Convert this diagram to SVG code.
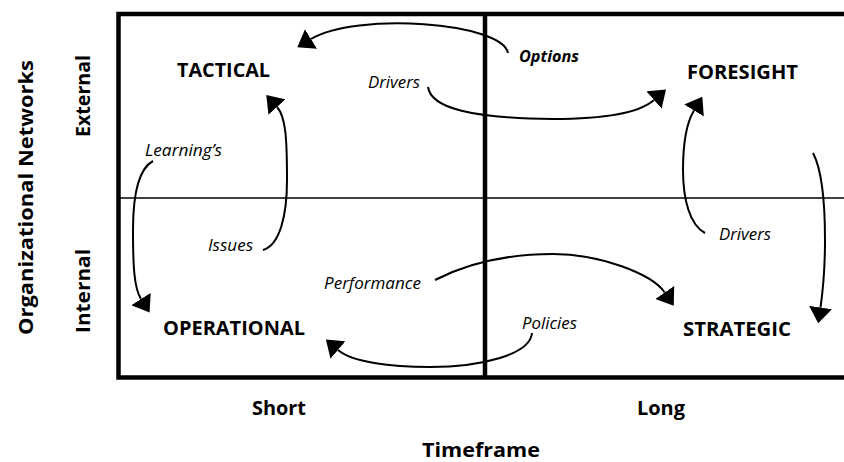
<svg xmlns="http://www.w3.org/2000/svg" width="844" height="462" viewBox="0 0 844 462">
<defs>
<style>
.frame{fill:none;stroke:#000;stroke-width:4.5}
.thin{fill:none;stroke:#000;stroke-width:1.6}
.conn{fill:none;stroke:#000;stroke-width:2;marker-end:url(#arrow)}
.node{font-family:"Open Sans","Liberation Sans",sans-serif;font-weight:bold;font-size:20px;fill:#000}
.lbl{font-family:"Open Sans","Liberation Sans",sans-serif;font-style:italic;font-size:15.5px;fill:#000}
.axis{font-family:"Open Sans","Liberation Sans",sans-serif;font-weight:bold;font-size:19px;fill:#000}
</style>
<marker id="arrow" markerUnits="userSpaceOnUse" markerWidth="16" markerHeight="23" viewBox="0 0 16 23" refX="0" refY="11.5" orient="auto">
<path d="M0,0 L16,11.5 L0,23 Z" fill="#000"/>
</marker>
</defs>
<rect width="844" height="462" fill="#fff"/>
<g id="frame">
<path class="frame" d="M850,14 H118.5 V377.5 H850"/>
<line class="frame" x1="485" y1="14" x2="485" y2="377.5"/>
<line class="thin" x1="118" y1="198" x2="850" y2="198"/>
</g>
<g id="axes">
<text class="axis" transform="translate(33,335) rotate(-90)" font-size="21" textLength="275" lengthAdjust="spacingAndGlyphs">Organizational Networks</text>
<text class="axis" transform="translate(90,137) rotate(-90)" font-size="20" textLength="82" lengthAdjust="spacingAndGlyphs">External</text>
<text class="axis" transform="translate(90,333) rotate(-90)" font-size="20" textLength="84" lengthAdjust="spacingAndGlyphs">Internal</text>
<text class="axis" x="252" y="415" textLength="54" lengthAdjust="spacingAndGlyphs">Short</text>
<text class="axis" x="637" y="415" textLength="48" lengthAdjust="spacingAndGlyphs">Long</text>
<text class="axis" x="422" y="457" font-size="21" textLength="118" lengthAdjust="spacingAndGlyphs">Timeframe</text>
</g>
<g id="tactical"><text class="node" x="177" y="77" textLength="93" lengthAdjust="spacingAndGlyphs">TACTICAL</text></g>
<g id="foresight"><text class="node" x="687" y="79" textLength="111" lengthAdjust="spacingAndGlyphs">FORESIGHT</text></g>
<g id="operational"><text class="node" x="163" y="335" textLength="142" lengthAdjust="spacingAndGlyphs">OPERATIONAL</text></g>
<g id="strategic"><text class="node" x="683" y="336" textLength="108" lengthAdjust="spacingAndGlyphs">STRATEGIC</text></g>
<g id="connectors">
<path class="conn" d="M508,53 C502,22 355,12 311,39"/>
<path class="conn" d="M428,87 C431,108 470,118 553,119 C600,119 638,114 654,100"/>
<path class="conn" d="M263,250 C280,245 287,215 287,180 C287,140 286,117 277,107"/>
<path class="conn" d="M153,161 C140,168 133,190 133,230 C133,265 134,288 141,299"/>
<path class="conn" d="M435,280 C470,262 510,254 553,254 C600,254 652,274 664.7,292.5"/>
<path class="conn" d="M532,333 C530,355 480,367 430,367 C390,367 352,362 338,350"/>
<path class="conn" d="M705,233 C690,225 683,200 683,170 C683,140 687,122 694,110.5"/>
<path class="conn" d="M813,153 C822,170 825,200 825,240 C825,270 823,290 820.5,307.5"/>
</g>
<g id="connector-labels">
<text class="lbl" x="519" y="62" font-weight="bold" textLength="60" lengthAdjust="spacingAndGlyphs">Options</text>
<text class="lbl" x="368" y="88" textLength="52" lengthAdjust="spacingAndGlyphs">Drivers</text>
<text class="lbl" x="145" y="156" textLength="77" lengthAdjust="spacingAndGlyphs">Learning’s</text>
<text class="lbl" x="208" y="251" textLength="45" lengthAdjust="spacingAndGlyphs">Issues</text>
<text class="lbl" x="324" y="289" textLength="97" lengthAdjust="spacingAndGlyphs">Performance</text>
<text class="lbl" x="522" y="329" textLength="55" lengthAdjust="spacingAndGlyphs">Policies</text>
<text class="lbl" x="719" y="240" textLength="52" lengthAdjust="spacingAndGlyphs">Drivers</text>
</g>
</svg>
